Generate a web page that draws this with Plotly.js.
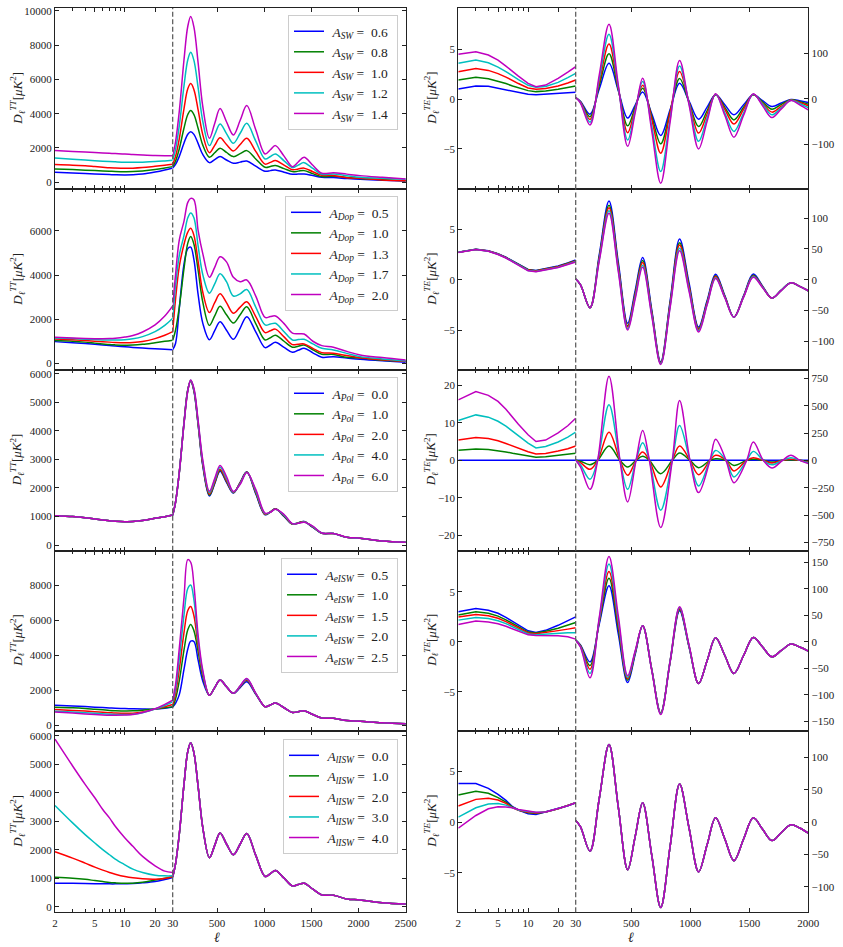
<!DOCTYPE html>
<html><head><meta charset="utf-8">
<script src="https://cdn.plot.ly/plotly-3.0.1.min.js"></script>
<style>html,body{margin:0;padding:0;background:#fff;}#chart{width:843px;height:947px;}</style>
</head><body><div id="chart"></div>
<script>
// ---------------- data ----------------
const LOW_L = [2,3,4,5,6,7,8,10,12,15,20,25,30];
const TT_L = [30,60,100,150,190,221,255,300,350,419,475,532,600,673,745,815,910,1009,1065,1118,1210,1299,1360,1422,1515,1610,1733,1875,2016,2250,2500];
const TE_L = [30,70,151,230,312,391,470,534,597,674,750,830,910,990,1071,1143,1215,1293,1370,1452,1534,1613,1692,1772,1853,1927,2000];
const TE_L_POL = [30,70,151,216,312,405,470,541,597,654,750,848,910,998,1071,1167,1215,1303,1370,1478,1534,1619,1692,1782,1853,1929,2000];

const PARAM_NAMES = ['SW','Dop','Pol','eISW','lISW'];
const SW_VALS = ['0.6','0.8','1.0','1.2','1.4'];
const DOP_VALS = ['0.5','1.0','1.3','1.7','2.0'];
const POL_VALS = ['0.0','1.0','2.0','4.0','6.0'];
const EISW_VALS = ['0.5','1.0','1.5','2.0','2.5'];
const LISW_VALS = ['0.0','1.0','2.0','3.0','4.0'];

// reference TT
const TT_REF_LO = [1030,1000,960,915,880,850,835,820,825,860,935,995,1050];
const TT_REF_HI = [1040,1500,2550,4300,5450,5750,5400,4200,2750,1720,2150,2590,2200,1825,2200,2566,1800,1060,1160,1271,1000,730,775,824,615,412,400,270,235,140,94];

// row 1: A_SW
const TT_SW_LO = [
 [583,545,510,485,465,450,440,430,440,480,600,720,835],
 [777,740,705,680,660,645,632,620,625,660,740,830,913],
 TT_REF_LO,
 [1418,1350,1300,1260,1230,1205,1190,1170,1165,1175,1205,1245,1282],
 [1846,1800,1765,1735,1710,1690,1675,1650,1620,1590,1560,1550,1554]];
const TT_SW_HI = [
 [835,1042,1512,2294,2802,2950,2793,2255,1606,1146,1321,1496,1300,1107,1175,1243,940,641,680,719,590,466,476,486,390,291,272,220,175,125,78],
 [913,1233,1958,3167,3951,4180,3943,3132,2151,1457,1720,1982,1739,1496,1671,1846,1360,874,923,972,797,622,651,680,505,330,350,282,214,155,97],
 TT_REF_HI,
 [1282,1899,3297,5628,7139,7580,7106,5484,3525,2137,2768,3400,2836,2273,2856,3439,2400,1360,1506,1652,1253,855,1000,1146,806,466,486,388,291,230,175],
 [1554,2348,4148,7147,9093,9660,9043,6928,4374,2565,3430,4294,3527,2759,3614,4469,3060,1652,1895,2137,1525,913,1185,1457,990,525,563,476,389,290,194]];

// row 2: A_Dop
const TT_DOP_LO = [
 [983,935,895,860,830,805,785,750,720,690,655,635,620],
 TT_REF_LO,
 [1104,1070,1035,1005,980,960,948,937,945,990,1120,1270,1436],
 [1149,1120,1095,1075,1062,1055,1055,1070,1110,1210,1436,1720,2041],
 [1179,1150,1130,1119,1115,1120,1135,1190,1260,1420,1739,2140,2600]];
const TT_DOP_HI = [
 [620,900,2500,4500,5200,5270,4700,3100,1800,1070,1480,1887,1500,1088,1600,2113,1430,710,830,952,725,499,590,680,476,272,302,240,181,110,45],
 TT_REF_HI,
 [1436,2900,4400,5400,5950,6120,5800,4600,3200,2300,2750,3150,2750,2270,2550,2794,2120,1391,1475,1550,1200,847,862,877,680,484,454,350,257,160,76],
 [2041,3500,4900,5800,6600,6820,6600,5300,4000,3180,3600,4060,3700,3050,3150,3350,2550,1740,1780,1814,1430,1060,1075,1089,880,680,605,450,302,200,106],
 [2600,4000,5600,6450,7300,7480,7420,6000,4950,3900,4350,4830,4600,3900,3700,3780,3050,2080,2120,2147,1800,1370,1340,1330,1000,800,726,540,378,260,151]];

// row 3: A_Pol
const TT_POL_LO = [TT_REF_LO,TT_REF_LO,TT_REF_LO,TT_REF_LO,TT_REF_LO];
const TT_POL_HI = [
 TT_REF_HI,
 [1045,1500,2550,4290,5440,5760,5420,4230,2790,1750,2180,2620,2230,1835,2190,2560,1830,1070,1160,1268,1015,733,775,820,625,413,401,271,236,140,94],
 [1046,1500,2550,4280,5430,5770,5440,4260,2830,1785,2210,2660,2260,1845,2180,2555,1860,1080,1155,1265,1030,737,770,815,635,415,402,272,236,141,94],
 [1048,1500,2550,4265,5415,5780,5470,4300,2890,1840,2270,2725,2330,1862,2155,2548,1900,1100,1152,1258,1050,743,765,808,648,418,403,273,237,141,95],
 [1050,1500,2550,4250,5400,5790,5500,4350,2950,1890,2330,2790,2400,1880,2130,2540,1950,1120,1150,1250,1070,750,760,800,660,420,405,275,238,142,95]];

// row 4: A_eISW
const TT_EISW_LO = [
 [1143,1100,1065,1035,1010,990,975,953,940,928,925,975,1048],
 TT_REF_LO,
 [895,850,810,775,745,720,700,680,690,760,925,1060,1181],
 [800,755,715,680,655,635,620,610,625,720,930,1130,1333],
 [762,700,650,615,590,575,570,580,610,730,940,1190,1429]];
const TT_EISW_HI = [
 [1048,1250,1750,3200,4350,4800,4780,3700,2500,1715,2150,2590,2200,1825,2150,2480,1770,1060,1160,1271,1000,730,775,824,615,412,400,270,235,140,94],
 TT_REF_HI,
 [1181,1800,3200,5300,6550,6780,6250,4500,2900,1715,2150,2590,2200,1825,2220,2600,1810,1060,1160,1271,1000,730,775,824,615,412,400,270,235,140,94],
 [1333,2050,3800,6300,7800,8000,7150,4800,3000,1715,2150,2590,2200,1825,2240,2640,1820,1060,1160,1271,1000,730,775,824,615,412,400,270,235,140,94],
 [1429,2300,4400,7300,9450,9300,8000,5100,3100,1715,2150,2590,2200,1825,2250,2670,1830,1060,1160,1271,1000,730,775,824,615,412,400,270,235,140,94]];

// row 5: A_lISW
const TT_LISW_LO = [
 [823,818,812,806,802,800,800,805,812,835,882,955,1023],
 TT_REF_LO,
 [1929,1705,1529,1388,1282,1200,1141,1058,1011,976,964,988,1058],
 [3552,2940,2528,2234,2000,1823,1670,1470,1317,1200,1105,1082,1082],
 [5880,4939,4292,3822,3410,3116,2822,2411,2117,1764,1435,1247,1200]];
const TT_LISW_HI = [TT_REF_HI,TT_REF_HI,TT_REF_HI,TT_REF_HI,TT_REF_HI];

// reference TE
const TE_REF_HI = [2.6,-7,-45,37,120,23,-73.6,-22,30,-51,-132,-37,59,-9,-77,-35,6.7,-26,-59.6,-26,6.7,-11,-28.5,-16,-4,-9,-17];

const TE_SW_LO = [
 [1.0,1.3,1.27,1.07,0.9,0.74,0.62,0.47,0.43,0.47,0.57,0.62,0.67],
 [1.9,2.17,2.04,1.8,1.55,1.3,1.1,0.84,0.74,0.8,0.97,1.15,1.3],
 [2.74,3.07,2.87,2.55,2.2,1.84,1.55,1.1,0.97,1.05,1.3,1.6,1.9],
 [3.58,3.91,3.64,3.2,2.75,2.3,1.95,1.37,1.17,1.25,1.67,2.15,2.57],
 [4.48,4.75,4.41,3.9,3.3,2.74,2.3,1.57,1.24,1.4,2.07,2.7,3.24]];
const TE_SW_HI = [
 [3,-5,-33.6,22,78,18,-42,-13.5,15,-32.5,-80,-23,34,-5,-44.5,-18,8.8,-13,-35,-13,8.8,-4,-16.8,-9,-1.5,-4,-8],
 [3,-6,-39,30,99,20,-59,-18,23,-38,-98.5,-27,44.5,-8,-60.6,-26,9,-18.5,-46,-18.5,9,-7,-22.6,-12,-2,-6,-11.7],
 [3,-7,-45,37,120,23,-74,-22,30,-44.5,-119,-29.5,60,-7.5,-75,-33,9.5,-23,-55,-23,9.5,-10,-29,-16,-2.5,-8,-15],
 [3,-8,-51,45,141.6,26,-90,-26,38,-60,-159,-43,72,-10,-93,-42,10,-31,-71.5,-31,10,-12,-35,-19,-3,-10,-19],
 [3,-9,-57,53,163.5,30,-104,-30,45,-70,-185,-50,84,-13,-109.5,-49,11,-36,-84,-36,11,-15,-41,-22,-3.6,-13,-24]];

const TE_DOP_LO = [
 [2.72,3.01,2.86,2.57,2.22,1.87,1.5,1.02,0.92,1.08,1.35,1.66,1.95],
 [2.72,3.01,2.85,2.55,2.2,1.84,1.47,0.98,0.88,1.05,1.31,1.62,1.89],
 [2.72,3.0,2.84,2.54,2.19,1.82,1.45,0.95,0.85,1.02,1.28,1.59,1.85],
 [2.71,3.0,2.83,2.52,2.17,1.79,1.42,0.91,0.82,0.98,1.24,1.54,1.8],
 [2.7,2.99,2.82,2.5,2.15,1.76,1.39,0.88,0.78,0.95,1.2,1.5,1.75]];
const TE_DOP_HI = [
 [1,-8,-45.6,41,128,28,-71,-17.5,36,-49,-134,-34,66,-5.5,-77,-34,8.7,-26,-61,-26,9,-10.5,-30,-17,-5,-11,-18],
 [1,-8,-45.6,37.5,121,23,-75,-22,31,-52,-135,-37.5,60,-10,-79.5,-36.5,6.5,-27,-61,-27,7,-11.5,-30,-17,-5,-11,-18],
 [1,-8,-45.6,35.5,117,20,-77,-24.5,28,-54,-136,-40,56.5,-12,-81,-38,5,-28,-61,-27.5,6,-12,-30,-17,-5,-11,-18],
 [1,-8,-45.6,33,112,16,-80,-28,23.5,-57,-137,-43,51,-16,-83,-40,3,-29,-61,-28,5,-12.5,-30,-17,-5,-11,-18],
 [1,-8,-45.6,31,108,13,-82,-31,20,-59,-138,-45,47,-19,-85,-41,2,-29.5,-61,-28.5,4,-13,-30,-17.5,-5,-11,-18]];

const TE_POL_LO = [
 [0,0,0,0,0,0,0,0,0,0,0,0,0],
 [2.7,3.05,2.9,2.6,2.25,1.9,1.6,1.15,0.85,0.93,1.25,1.55,1.9],
 [5.4,6.1,5.8,5.2,4.5,3.8,3.2,2.3,1.7,1.85,2.5,3.1,3.8],
 [10.6,12.1,11.5,10.4,9.1,7.7,6.5,4.6,3.3,3.7,4.9,6.2,7.5],
 [16.1,18.3,17.3,15.7,13.6,11.4,9.6,6.8,5.0,5.4,7.3,9.2,11.2]];
const TE_POL_HI = [
 [0,0,0,0,0,0,0,0,0,0,0,0,0,0,0,0,0,0,0,0,0,0,0,0,0,0,0],
 [0,-8,-40,0,131,0,-61,0,36.5,0,-122,0,67,0,-67,0,15,0,-46,0,9,0,-15,0,3,0,-12],
 [0,-20,-82,0,258,0,-137,0,76,0,-243,0,131,0,-131,0,46,0,-97,0,24,0,-24,0,9,0,-15],
 [0,-40,-173,0,508,0,-265,0,161,0,-456,0,319,0,-234,0,91,0,-152,0,82,0,-40,0,24,0,-21],
 [0,-60,-265,0,770,0,-380,0,274,0,-614,0,548,0,-295,0,192,0,-204,0,167,0,-70,0,46,0,-30]];

const TE_EISW_LO = [
 [3.0,3.33,3.15,2.85,2.45,2.05,1.7,1.1,0.93,1.15,1.65,2.1,2.5],
 [2.67,3.0,2.85,2.57,2.2,1.85,1.5,0.98,0.88,1.05,1.35,1.65,1.93],
 [2.47,2.73,2.6,2.35,2.02,1.7,1.4,0.88,0.8,0.92,1.12,1.27,1.4],
 [2.17,2.43,2.32,2.1,1.82,1.52,1.25,0.78,0.72,0.78,0.88,0.9,0.9],
 [1.73,2.07,1.97,1.8,1.55,1.3,1.07,0.7,0.63,0.62,0.6,0.5,0.27]];
const TE_EISW_HI = [
 [3,-6,-38,34,106,14.5,-77,-23.5,30,-52,-134.5,-38,58.7,-10,-79,-35.7,7.6,-26,-60,-26,8.2,-10,-28.4,-16.4,-4.4,-10,-17.7],
 [3,-7,-45,37.5,120,23.7,-72.6,-21.3,30,-52,-134.5,-37,61,-9,-79,-35.7,7.6,-26,-60,-26,8.2,-10,-28.4,-16.4,-4.4,-10,-17.7],
 [3,-8,-52,40.3,132.6,31.6,-69.4,-19.7,30,-52.5,-135,-36,63,-8,-79,-35.7,7.6,-26,-60,-26,8.2,-10,-28.4,-16.4,-4.4,-10,-17.7],
 [3,-9,-60,43.5,147,40,-67,-18.5,30,-53,-136,-35,64.5,-7.5,-79,-35.7,7.6,-26,-60,-26,8.2,-10,-28.4,-16.4,-4.4,-10,-17.7],
 [3,-10,-68,46.5,161,48.5,-64,-17,30,-54,-137.6,-36,66,-6.5,-79,-35.7,7.6,-26,-60,-26,8.2,-10,-28.4,-16.4,-4.4,-10,-17.7]];

const TE_LISW_LO = [
 [3.81,3.81,3.34,2.75,2.15,1.52,1.2,0.83,0.76,1.0,1.32,1.62,1.92],
 [2.68,3.05,2.85,2.42,1.97,1.49,1.2,0.93,0.85,1.0,1.32,1.62,1.92],
 [1.59,2.25,2.35,2.19,1.85,1.42,1.18,0.98,0.9,1.0,1.32,1.62,1.92],
 [0.5,1.42,1.79,1.85,1.68,1.42,1.2,1.04,0.95,1.0,1.32,1.62,1.92],
 [-0.6,0.66,1.32,1.52,1.5,1.42,1.25,1.09,0.97,1.0,1.32,1.62,1.92]];
const TE_LISW_HI = [TE_REF_HI,TE_REF_HI,TE_REF_HI,TE_REF_HI,TE_REF_HI];

// tick labels
const TT_YTICKS = [[0,2000,4000,6000,8000,10000],[0,2000,4000,6000],[0,1000,2000,3000,4000,5000,6000],[0,2000,4000,6000,8000],[0,1000,2000,3000,4000,5000,6000]];
const TE_LTICKS = [[-5,0,5],[-5,0,5],[-20,-10,0,10,20],[-5,0,5],[-5,0,5]];
const TE_RTICKS = [[-100,0,100],[-100,-50,0,50,100],[-750,-500,-250,0,250,500,750],[-150,-100,-50,0,50,100,150],[-100,-50,0,50,100]];
const LOG_TICKS = [2,5,10,20,30];
const LOG_MINOR = [3,4,6,7,8,9];
const TT_XTICKS = [500,1000,1500,2000,2500];
const TE_XTICKS = [500,1000,1500,2000];

// ---------------- layout / styles ----------------
const FONT = '"Liberation Serif", "DejaVu Serif", serif';
const COLORS = ['#0000ff','#008000','#ff0000','#00bfbf','#bf00bf'];
const COL_L = [0.06524, 0.20486, 0.48137];
const COL_R = [0.54365, 0.68292, 0.95884];
const ROWS = [[0.80011,0.99155],[0.60929,0.80011],[0.41848,0.60929],[0.22809,0.41848],[0.03664,0.22809]];
const TT_YR = [[-408,10157],[-304,7891],[-200,6140],[-326,9960],[-198,6166]];
const TE_YRL = [[-9.06,9.13],[-8.97,8.97],[-24.05,24.05],[-8.9,9.1],[-8.9,9.0]];
const TE_YRR = [[-198,199],[-147,147],[-826,826],[-168.6,172],[-139.4,141]];
const LEG_Y = [0.9842, 0.7930, 0.6019, 0.4108, 0.2196];

const TT_ROWS = [
 {lo:TT_SW_LO, hi:TT_SW_HI, vals:SW_VALS},
 {lo:TT_DOP_LO, hi:TT_DOP_HI, vals:DOP_VALS},
 {lo:TT_POL_LO, hi:TT_POL_HI, vals:POL_VALS},
 {lo:TT_EISW_LO, hi:TT_EISW_HI, vals:EISW_VALS},
 {lo:TT_LISW_LO, hi:TT_LISW_HI, vals:LISW_VALS}];
const TE_ROWS = [
 {lo:TE_SW_LO, hi:TE_SW_HI, L:TE_L},
 {lo:TE_DOP_LO, hi:TE_DOP_HI, L:TE_L},
 {lo:TE_POL_LO, hi:TE_POL_HI, L:TE_L_POL},
 {lo:TE_EISW_LO, hi:TE_EISW_HI, L:TE_L},
 {lo:TE_LISW_LO, hi:TE_LISW_HI, L:TE_L}];

const minus = v => String(v).replace('-', '\u2212');
const ref = (p, n) => n === 1 ? p : p + n;
const key = (p, n) => p + 'axis' + (n === 1 ? '' : n);

const layout = {
  width: 843, height: 947,
  margin: {l:0, r:0, t:0, b:0},
  paper_bgcolor: '#ffffff', plot_bgcolor: 'rgba(0,0,0,0)',
  font: {family: FONT, size: 11, color: '#222'},
  hovermode: false,
  shapes: [], annotations: []
};
const traces = [];
const LINE = '#222';
const baseAx = {showgrid:false, zeroline:false, showline:true, linecolor:LINE, linewidth:1,
  ticks:'inside', ticklen:4, tickwidth:1, tickcolor:LINE, fixedrange:true,
  tickfont:{family:FONT, size:11, color:'#222'}};

for (let r = 0; r < 5; r++) {
  for (let c = 0; c < 2; c++) {
    const k = 2*r + c;
    const n1 = 2*k + 1, n2 = 2*k + 2;
    const col = c === 0 ? COL_L : COL_R;
    const isTE = c === 1;
    const xmax = isTE ? 2000 : 2500;
    layout[key('x', n1)] = Object.assign({}, baseAx, {
      type:'log', domain:[col[0], col[1]], range:[Math.log10(2), Math.log10(30)],
      anchor: ref('y', n1), mirror:'ticks', tickmode:'array',
      tickvals: LOG_TICKS, ticktext: LOG_TICKS.map(String), showticklabels: r === 4,
      minor: {tickmode:'array', tickvals: LOG_MINOR, ticks:'inside', ticklen:3, tickwidth:1, tickcolor:LINE, showgrid:false}});
    const xt = isTE ? TE_XTICKS : TT_XTICKS;
    layout[key('x', n2)] = Object.assign({}, baseAx, {
      type:'linear', domain:[col[1], col[2]], range:[30, xmax],
      anchor: ref('y', n2), mirror:'ticks', tickmode:'array',
      tickvals: xt, ticktext: xt.map(String), showticklabels: r === 4});
    const yrA = isTE ? TE_YRL[r] : TT_YR[r];
    const yrB = isTE ? TE_YRR[r] : TT_YR[r];
    const ytA = isTE ? TE_LTICKS[r] : TT_YTICKS[r];
    const ytB = isTE ? TE_RTICKS[r] : TT_YTICKS[r];
    layout[key('y', n1)] = Object.assign({}, baseAx, {
      domain: ROWS[r], range: yrA, anchor: ref('x', n1), side:'left',
      tickmode:'array', tickvals: ytA, ticktext: ytA.map(minus)});
    layout[key('y', n2)] = Object.assign({}, baseAx, {
      domain: ROWS[r], range: yrB, anchor: ref('x', n2), side:'right',
      tickmode:'array', tickvals: ytB, ticktext: ytB.map(minus), showticklabels: isTE});

    layout.shapes.push({type:'line', xref:'paper', yref:'paper', x0:col[1], x1:col[1],
      y0:ROWS[r][0], y1:ROWS[r][1], line:{color:'#555', width:1.2, dash:'5px,2.5px'}});

    const ym = (ROWS[r][0] + ROWS[r][1]) / 2;
    layout.annotations.push({xref:'paper', yref:'paper', x: isTE ? 431/843 : 17/843, y: ym,
      xanchor:'center', yanchor:'middle', textangle:-90, showarrow:false,
      font:{family:FONT, size:13, color:'#222'},
      text: '<i>D</i><sub><i>ℓ</i></sub><sup><i>' + (isTE ? 'TE' : 'TT') + '</i></sup>[<i>μK</i><sup>2</sup>]'});

    const legName = r === 0 ? 'legend' : 'legend' + (r + 1);
    for (let i = 0; i < 5; i++) {
      if (!isTE) {
        const d = TT_ROWS[r];
        traces.push({type:'scatter', mode:'lines', x: LOW_L, y: d.lo[i],
          xaxis: ref('x', n1), yaxis: ref('y', n1),
          line:{color: COLORS[i], width:1.5, shape:'spline', smoothing:1},
          name: '\u00a0<i>A</i><sub><i>' + PARAM_NAMES[r] + '</i></sub>\u00a0=\u00a0\u00a0' + d.vals[i] + '\u00a0',
          legend: legName, showlegend: true, hoverinfo:'skip'});
        traces.push({type:'scatter', mode:'lines', x: TT_L, y: d.hi[i],
          xaxis: ref('x', n2), yaxis: ref('y', n2),
          line:{color: COLORS[i], width:1.5, shape:'spline', smoothing:1},
          showlegend:false, hoverinfo:'skip'});
      } else {
        const d = TE_ROWS[r];
        traces.push({type:'scatter', mode:'lines', x: LOW_L, y: d.lo[i],
          xaxis: ref('x', n1), yaxis: ref('y', n1),
          line:{color: COLORS[i], width:1.5, shape:'linear'},
          showlegend:false, hoverinfo:'skip'});
        traces.push({type:'scatter', mode:'lines', x: d.L, y: d.hi[i],
          xaxis: ref('x', n2), yaxis: ref('y', n2),
          line:{color: COLORS[i], width:1.5, shape:'spline', smoothing:1},
          showlegend:false, hoverinfo:'skip'});
      }
    }
  }
  const legName = r === 0 ? 'legend' : 'legend' + (r + 1);
  layout[legName] = {x: 398/843, xanchor:'right', y: LEG_Y[r], yanchor:'top',
    bgcolor:'rgba(255,255,255,0.85)', bordercolor:'#cccccc', borderwidth:1,
    font:{family:FONT, size:13.5, color:'#222'}, itemwidth:30, traceorder:'normal',
    tracegroupgap:0};
}

[217/843, 631/843].forEach(x => layout.annotations.push({xref:'paper', yref:'paper', x:x, y:1-937/947,
  xanchor:'center', yanchor:'middle', showarrow:false, text:'<i>ℓ</i>',
  font:{family:FONT, size:14, color:'#222'}}));

Plotly.newPlot('chart', traces, layout, {staticPlot:true, displayModeBar:false});
</script></body></html>
